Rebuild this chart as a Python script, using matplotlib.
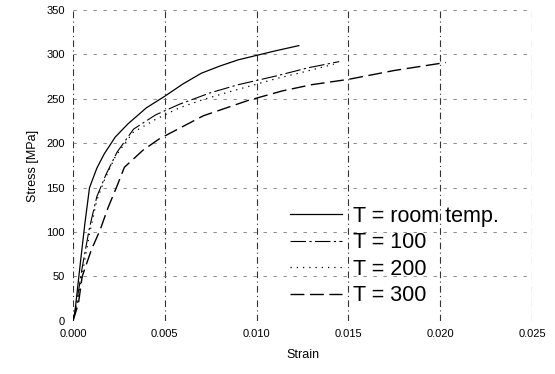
import matplotlib.pyplot as plt

# strain / stress
strain_rt = [0, 0.0001, 0.0004, 0.00065, 0.0009, 0.0013, 0.0017, 0.0023, 0.003, 0.004, 0.005,
             0.006, 0.007, 0.008, 0.009, 0.010, 0.011, 0.0123]
stress_rt = [0, 9, 65, 110, 150, 172, 188, 207, 222, 240, 253, 267, 279, 287, 294, 299, 304, 310]

strain_100 = [0, 0.0002, 0.0005, 0.0009, 0.0013, 0.0018, 0.0024, 0.0033, 0.0045, 0.0058, 0.0075,
              0.009, 0.0111, 0.0128, 0.0145]
stress_100 = [0, 20, 60, 105, 140, 165, 190, 216, 232, 244, 257, 266, 276, 285, 292]

strain_200 = [0, 0.0002, 0.0005, 0.0009, 0.0013, 0.0017, 0.0023, 0.00326, 0.0045, 0.0058, 0.0072,
              0.0087, 0.0111, 0.0125, 0.0142]
stress_200 = [0, 15, 52, 98, 136, 158, 185, 212, 227, 240, 250, 259, 273, 280, 289]

strain_300 = [0, 0.0003, 0.0005, 0.001, 0.00147, 0.0019, 0.0024, 0.0028, 0.0038, 0.0047, 0.0071,
              0.0095, 0.0114, 0.013, 0.015, 0.0175, 0.0203]
stress_300 = [0, 20, 50, 80, 102, 127, 152, 173, 192, 205, 231, 248, 259, 266, 272, 282, 291]

labels = ["T = room temp.", "T = 100", "T = 200", "T = 300"]
x_ticks = [0.000, 0.005, 0.010, 0.015, 0.020, 0.025]
y_ticks = [0, 50, 100, 150, 200, 250, 300, 350]

plt.rcParams['font.family'] = ['Liberation Sans', 'DejaVu Sans']

fig = plt.figure(figsize=(5.55, 3.74), dpi=100)
ax = fig.add_axes([0.1315, 0.142, 0.8271, 0.831])

ax.plot(strain_rt, stress_rt, color="black", lw=0.9, ls="-", label=labels[0])
ax.plot(strain_100, stress_100, color="black", lw=0.8, ls=(0, (14, 3, 2, 3)), label=labels[1])
ax.plot(strain_200, stress_200, color="black", lw=0.9, ls=(0, (1, 4)), label=labels[2])
ax.plot(strain_300, stress_300, color="black", lw=1.0, ls=(0, (10, 4)), label=labels[3])

ax.set_xlim(0, 0.025)
ax.set_ylim(0, 350)
ax.set_xticks(x_ticks)
ax.set_xticklabels([f"{v:.3f}" for v in x_ticks], fontsize=8)
ax.set_yticks(y_ticks)
ax.set_yticklabels([str(v) for v in y_ticks], fontsize=8)
ax.tick_params(length=0, pad=6)

for s in ax.spines.values():
    s.set_visible(False)
ax.xaxis.grid(True, color="#333333", lw=0.8, ls=(0, (6, 3, 1, 3)))
ax.yaxis.grid(True, color="#777777", lw=0.6, ls=(0, (4, 8)))
ax.axhline(0, color="#555555", lw=0.7, ls=(0, (5, 5)))

ax.set_xlabel("Strain", fontsize=9, labelpad=7)
ax.set_ylabel("Stress [MPa]", fontsize=9, labelpad=5)

ax.legend(loc="upper left", bbox_to_anchor=(0.473, 0.37), frameon=False, fontsize=15.5,
          handlelength=2.4, handletextpad=0.5, labelspacing=0.25, borderpad=0, borderaxespad=0)

fig.savefig("out.png", dpi=100)
